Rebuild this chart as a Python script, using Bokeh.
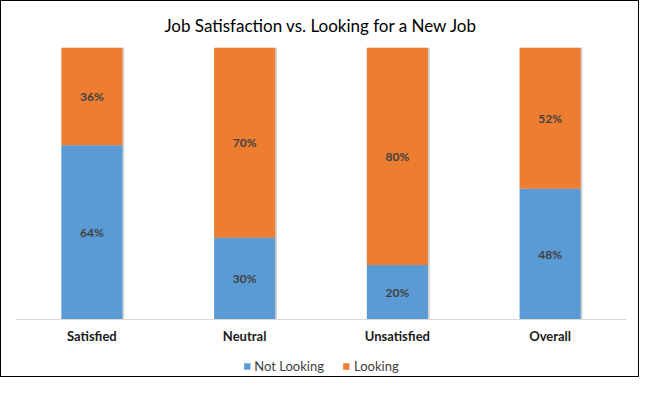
from bokeh.plotting import figure
from bokeh.models import ColumnDataSource, FactorRange, Range1d, Legend, LegendItem, LabelSet
from bokeh.core.properties import value
from bokeh.transform import dodge
from bokeh.embed import file_html
from bokeh.resources import INLINE

categories = ["Satisfied", "Neutral", "Unsatisfied", "Overall"]
not_looking = [0.64, 0.30, 0.20, 0.48]
looking = [0.36, 0.70, 0.80, 0.52]
series_names = ["Not Looking", "Looking"]
colors = ["#5B9BD5", "#ED7D31"]

FONT = "Lato"

src = ColumnDataSource(dict(
    cat=categories,
    nl=not_looking,
    lk=looking,
    total=[a + b for a, b in zip(not_looking, looking)],
    nl_mid=[a / 2 for a in not_looking],
    lk_mid=[a + b / 2 for a, b in zip(not_looking, looking)],
    nl_txt=[f"{round(a*100)}%" for a in not_looking],
    lk_txt=[f"{round(b*100)}%" for b in looking],
))

# frame: 0..1 spans 271 px; extra room below the baseline for labels and legend (59 px)
p = figure(x_range=FactorRange(*categories, range_padding=0), y_range=Range1d(-59 / 271, 1),
           width=639, height=377, output_backend="svg", toolbar_location=None,
           min_border_left=14, min_border_right=14, min_border_top=45, min_border_bottom=0,
           title="Job Satisfaction vs. Looking for a New Job")
p.styles = {"border": "1px solid #000000"}
p.title.align = "center"
p.title.text_font = FONT
p.title.text_font_style = "normal"
p.title.text_font_size = "17px"
p.title.text_color = "#000000"
p.title.standoff = 23

p.outline_line_color = None
p.xgrid.visible = False
p.ygrid.visible = False
p.yaxis.visible = False
p.background_fill_color = "white"
p.border_fill_color = "white"

# subtle shadow
p.vbar(x=dodge("cat", 0.012, range=p.x_range), top="total", bottom=0, width=0.4, source=src,
       fill_color="#A6A6A6", fill_alpha=0.5, line_color=None)

r1 = p.vbar(x="cat", bottom=0, top="nl", width=0.4, source=src, fill_color=colors[0], line_color=None)
r2 = p.vbar(x="cat", bottom="nl", top="total", width=0.4, source=src, fill_color=colors[1], line_color=None)

for ycol, tcol in [("nl_mid", "nl_txt"), ("lk_mid", "lk_txt")]:
    p.add_layout(LabelSet(x="cat", y=ycol, text=tcol, source=src, text_align="center",
                          text_baseline="middle", text_font=value(FONT), text_font_style="bold",
                          text_font_size="12px", text_color="#404040"))

ax = p.xaxis[0]
ax.fixed_location = 0
ax.axis_line_color = "#D9D9D9"
ax.major_tick_line_color = None
ax.minor_tick_line_color = None
ax.major_label_standoff = 3
ax.major_label_text_font = FONT
ax.major_label_text_font_style = "bold"
ax.major_label_text_font_size = "13px"
ax.major_label_text_color = "#1A1A1A"

legend = Legend(items=[LegendItem(label=series_names[0], renderers=[r1]),
                       LegendItem(label=series_names[1], renderers=[r2])],
                orientation="horizontal", location="bottom_center",
                label_text_font=FONT, label_text_font_size="13px", label_text_color="#404040",
                glyph_width=8, glyph_height=8, spacing=18, padding=2, margin=4,
                label_standoff=4, border_line_color=None, background_fill_alpha=0)
p.add_layout(legend, "center")

open("out.html", "w").write(file_html(p, INLINE))
